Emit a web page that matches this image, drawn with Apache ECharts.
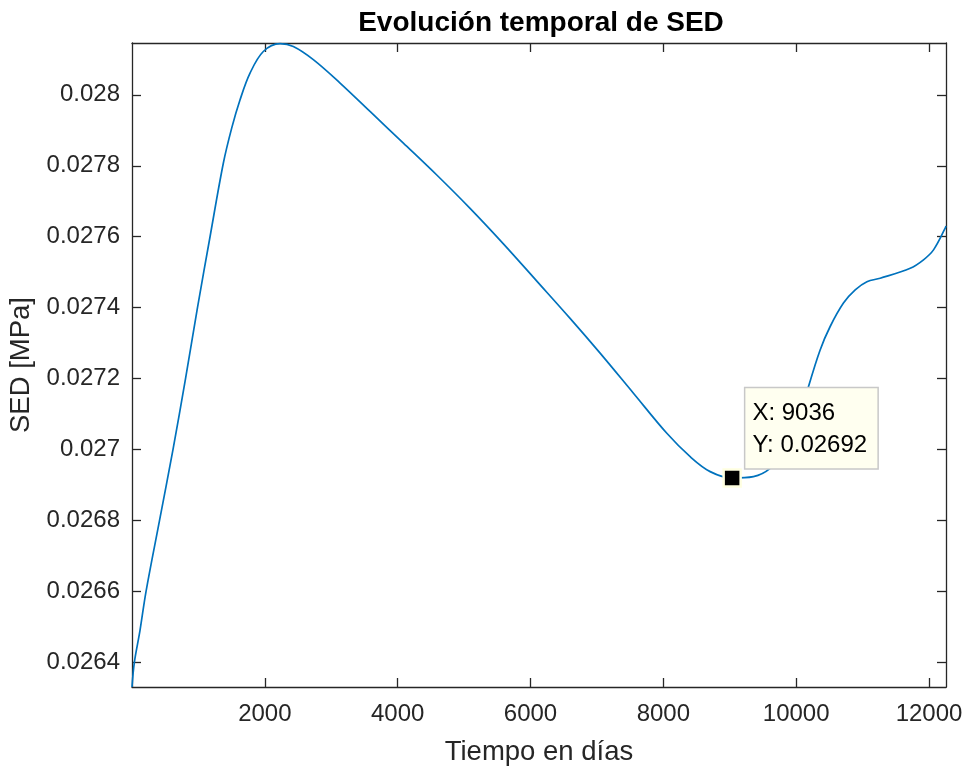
<!DOCTYPE html>
<html>
<head>
<meta charset="utf-8">
<script src="https://cdn.jsdelivr.net/npm/echarts@6/dist/echarts.min.js"></script>
<style>html,body{margin:0;padding:0;background:#fff}#c{width:965px;height:767px}</style>
</head>
<body>
<div id="c"></div>
<script>
const days = [0, 35, 120, 211, 414, 617, 806, 986, 1175, 1375, 1501, 1627, 1777, 1977, 2229, 2429, 2730, 3133, 3584, 4086, 4589, 5090, 5592, 6095, 6596, 7048, 7550, 8053, 8404, 8705, 9036, 9357, 9608, 9834, 10027, 10185, 10361, 10512, 10712, 10889, 11065, 11265, 11717, 11917, 12068, 12244, 12256];
const sed = [0.026331, 0.0264, 0.02649, 0.0266, 0.0268, 0.027, 0.0272, 0.0274, 0.0276, 0.027807, 0.027906, 0.027986, 0.028061, 0.028122, 0.028144, 0.028136, 0.028099, 0.028033, 0.027953, 0.027864, 0.027774, 0.027680, 0.027580, 0.027475, 0.027370, 0.027272, 0.027159, 0.027046, 0.026980, 0.026938, 0.02692, 0.026924, 0.026947, 0.026999, 0.027069, 0.027177, 0.027281, 0.027347, 0.027413, 0.027450, 0.027473, 0.027483, 0.027511, 0.027535, 0.027563, 0.027624, 0.02763];
const xTicks = [2000, 4000, 6000, 8000, 10000, 12000];
const yTicks = [0.0264, 0.0266, 0.0268, 0.027, 0.0272, 0.0274, 0.0276, 0.0278, 0.028];
const xRange = [0, 12256];
const yRange = [0.026331, 0.028146];
const tipPoint = [9036, 0.02692];

const FONT = '"Liberation Sans", Arial, Helvetica, sans-serif';
const AX = '#262626';
const chart = echarts.init(document.getElementById('c'), null, {renderer: 'canvas'});

function xAxisDef(pos, labels) {
  return {
    type: 'value', position: pos, min: xRange[0], max: xRange[1],
    axisLine: {show: true, onZero: false, lineStyle: {color: AX, width: 1.3}},
    axisTick: {show: true, inside: true, length: 9, customValues: xTicks, lineStyle: {color: AX, width: 1.3}},
    axisLabel: {show: labels, customValues: xTicks, margin: 15, color: AX, fontSize: 24, fontFamily: FONT,
      formatter: v => String(v)},
    splitLine: {show: false},
    name: labels ? 'Tiempo en días' : '', nameLocation: 'middle', nameGap: 51,
    nameTextStyle: {fontSize: 27.5, color: AX, fontFamily: FONT}
  };
}
function yAxisDef(pos, labels) {
  return {
    type: 'value', position: pos, min: yRange[0], max: yRange[1],
    axisLine: {show: true, onZero: false, lineStyle: {color: AX, width: 1.3}},
    axisTick: {show: true, inside: true, length: 9, customValues: yTicks, lineStyle: {color: AX, width: 1.3}},
    axisLabel: {show: labels, customValues: yTicks, margin: 12, color: AX, fontSize: 24, fontFamily: FONT,
      formatter: v => String(+(+v).toFixed(4))},
    splitLine: {show: false},
    name: labels ? 'SED [MPa]' : '', nameLocation: 'middle', nameGap: 96, nameRotate: 90,
    nameTextStyle: {fontSize: 27.5, color: AX, fontFamily: FONT}
  };
}

chart.setOption({
  animation: false,
  backgroundColor: '#ffffff',
  title: {
    text: 'Evolución temporal de SED', left: 536, top: 4, textAlign: 'center',
    textStyle: {fontSize: 28, fontWeight: 'bold', color: '#000', fontFamily: FONT}
  },
  grid: {left: 132, right: 19, top: 43, bottom: 80, containLabel: false, outerBoundsMode: 'none'},
  xAxis: [xAxisDef('bottom', true), xAxisDef('top', false)],
  yAxis: [yAxisDef('left', true), yAxisDef('right', false)],
  series: [
    {
      type: 'line', smooth: 0.35, showSymbol: false, symbol: 'none',
      data: days.map((d, i) => [d, sed[i]]),
      lineStyle: {color: '#0072BD', width: 1.7}, clip: true
    },
    {
      type: 'scatter', symbol: 'rect', symbolSize: 17, z: 5,
      data: [tipPoint],
      itemStyle: {color: '#000', borderColor: '#FFFFE1', borderWidth: 2.5, opacity: 1},
      label: {
        show: true, position: [23, -80],
        formatter: 'X: ' + tipPoint[0] + '\nY: ' + tipPoint[1],
        backgroundColor: '#FFFFF0', borderColor: '#C8C8C8', borderWidth: 1.5,
        padding: [9, 5, 7, 7], width: 120, lineHeight: 32, align: 'left',
        color: '#000', fontSize: 24, fontFamily: FONT
      }
    }
  ]
});
</script>
</body>
</html>
